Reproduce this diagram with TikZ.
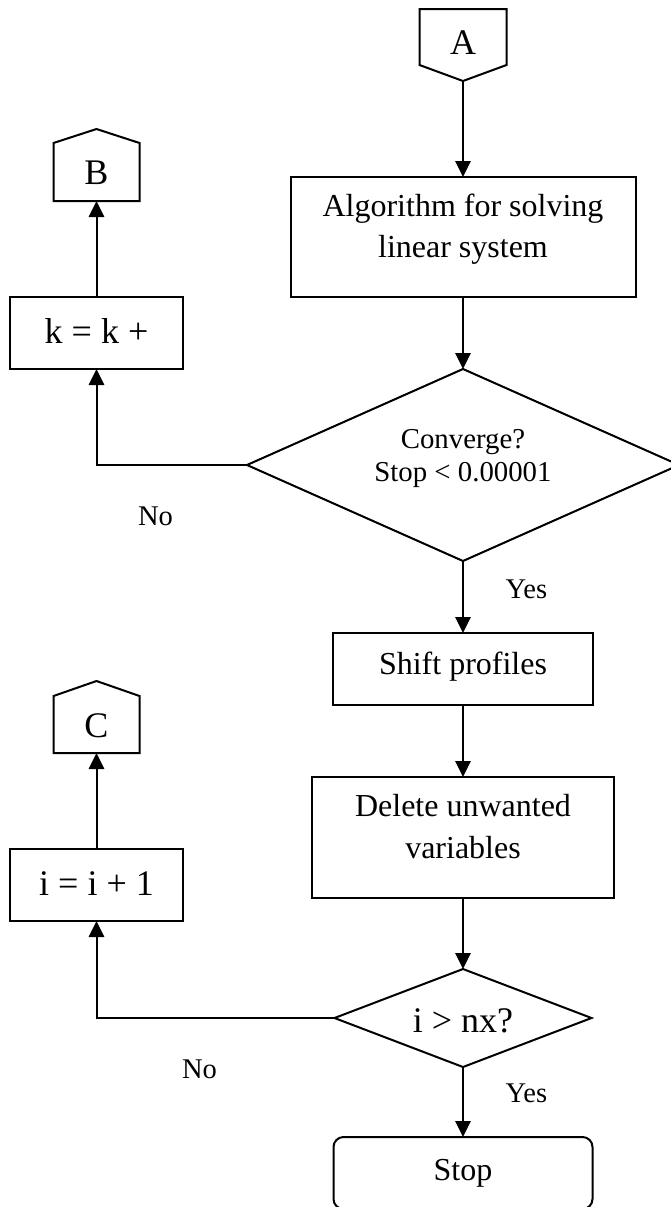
\documentclass[tikz,border=0pt]{standalone}
\usepackage{fontspec}
\setmainfont{Liberation Serif}
\usetikzlibrary{arrows.meta,shapes.geometric,calc}
\newcommand\tstrut{\rule{0pt}{0.7em}}
\newcommand\bstrut{\rule[-0.7em]{0pt}{0.7em}}
\begin{document}
\begin{tikzpicture}[x=0.75pt,y=-0.75pt,line width=1.5pt,
  every node/.style={inner sep=0pt,outer sep=0pt},
  arr/.style={-{Triangle[length=12pt,width=11.5pt]}},
  box/.style={draw,rectangle,align=center},
  mainfont/.style={font=\fontsize{24}{30.75}\selectfont},
  bigfont/.style={font=\fontsize{27}{32}\selectfont},
  lblfont/.style={font=\fontsize{21.4}{25}\selectfont},
  conn/.style={rectangle,minimum width=64.5pt,bigfont,text height=19pt,text depth=0pt},
  decision/.style={draw,diamond,align=center}]
\useasboundingbox (0,0) rectangle (671,1207);
\clip (0,0) rectangle (671,1207);

% off-page connectors
\node[conn,minimum width=65.25pt,minimum height=42pt,text height=25.5pt] (A) at (463,37) {A};
\draw (A.north west) -- (A.north east) -- (A.south east) -- ($(A.south)+(0,16)$) -- (A.south west) -- cycle;
\coordinate (Atip) at ($(A.south)+(0,16)$);

\node[conn,minimum height=43.5pt,text height=18pt] (B) at (96.5,172) {B};
\draw (B.south west) -- (B.north west) -- ($(B.north)+(0,-14)$) -- (B.north east) -- (B.south east) -- cycle;

\node[conn,minimum height=42.75pt] (C) at (96.5,724.5) {C};
\draw (C.south west) -- (C.north west) -- ($(C.north)+(0,-15)$) -- (C.north east) -- (C.south east) -- cycle;

% main column
\node[box,mainfont,minimum width=258.75pt,minimum height=90pt] (alg) at (463,237)
  {\tstrut Algorithm for solving\\linear system\bstrut};
\node[decision,aspect=2.2,minimum width=324pt,minimum height=144pt,font=\fontsize{21.6}{24.75}\selectfont] (d1) at (463,465)
  {\tstrut Converge?\\Stop < 0.00001\bstrut};
\node[box,mainfont,minimum width=195pt,minimum height=54pt,text height=16.5pt,text depth=9pt] (shift) at (463,669) {Shift profiles};
\node[box,font=\fontsize{24}{31.5}\selectfont,minimum width=226.5pt,minimum height=90.75pt] (del) at (463,837.5)
  {\tstrut Delete unwanted\\variables\bstrut};
\node[decision,aspect=2.62,minimum width=192.75pt,minimum height=73.5pt,bigfont,text height=21pt,text depth=0pt] (d2) at (463,1018) {i > nx?};
\node[draw,rectangle,rounded corners=7.5pt,mainfont,minimum width=194.25pt,minimum height=54pt,text height=16.5pt,text depth=6pt] (stop) at (463,1173) {Stop};

% left column
\node[box,bigfont,minimum width=129.75pt,minimum height=54pt,text height=18.6pt,text depth=3.6pt] (k) at (96.5,333) {k = k +};
\node[box,bigfont,minimum width=129.75pt,minimum height=54pt,text height=18.6pt,text depth=3.6pt] (i) at (96.5,885) {i = i + 1};

% labels
\node[lblfont,anchor=base] (yes1) at (526.5,598) {Yes};
\node[lblfont,anchor=base] (no1) at (155.5,525) {No};
\node[lblfont,anchor=base] (no2) at (199.5,1078) {No};
\node[lblfont,anchor=base] (yes2) at (526.5,1102) {Yes};

% connectors
\draw[arr] (Atip) -- (alg.north);
\draw[arr] (alg.south) -- (d1.north);
\draw[arr] (d1.south) -- (shift.north);
\draw[arr] (shift.south) -- (del.north);
\draw[arr] (del.south) -- (d2.north);
\draw[arr] (d2.south) -- (stop.north);
\draw[arr] (d1.west) -| (k.south);
\draw[arr] (k.north) -- (B.south);
\draw[arr] (d2.west) -| (i.south);
\draw[arr] (i.north) -- (C.south);
\end{tikzpicture}
\end{document}
